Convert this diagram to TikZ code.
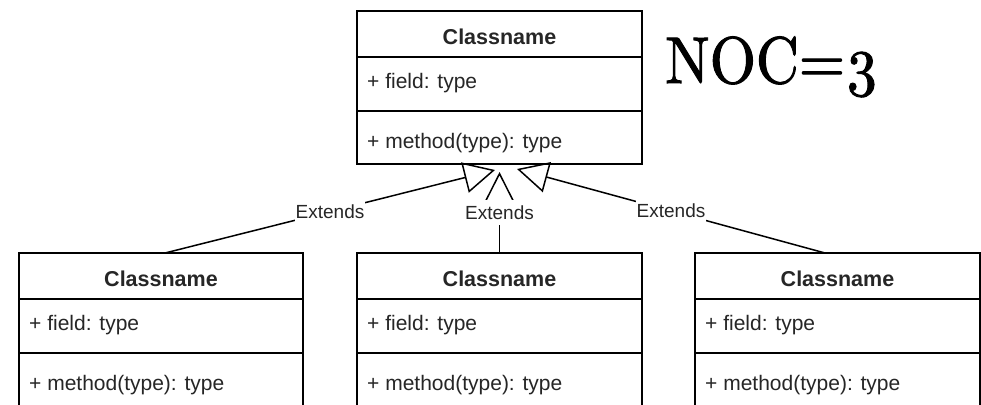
\documentclass[tikz,border=0pt]{standalone}
\usepackage{fontspec}
\setsansfont{Liberation Sans}
\newfontfamily\nocfont[FakeBold=1.6, Numbers=OldStyle]{lmroman10-regular.otf}
\usepackage{graphicx}
\usetikzlibrary{arrows.meta,calc}

\tikzset{
  clsbox/.style={draw=black, line width=1.5pt, fill=white, minimum height=153pt, inner sep=0pt, outer sep=0pt},
  clsline/.style={draw=black, line width=1.5pt},
  clstitle/.style={font=\sffamily\bfseries\fontsize{21.5}{25}\selectfont, text=black!85, inner sep=0pt},
  clsmember/.style={font=\sffamily\fontsize{21}{25}\selectfont, text=black!85, inner sep=0pt, anchor=base west},
  extends/.style={draw=black, line width=1.5pt, -{Triangle[open, length=31pt, width=31pt]}},
  extlabel/.style={font=\sffamily\fontsize{19}{22}\selectfont, text=black!85, fill=white, inner xsep=1pt, inner ysep=6pt},
  noc/.style={font=\nocfont\fontsize{66}{70}\selectfont, inner sep=0pt, anchor=base west}
}

\newcommand{\umlclass}[4]{%
  \node[clsbox, minimum width=#4pt] (#1) at (#2,#3+76.5) {};
  \draw[clsline] ($(#1.north west)+(0,46)$) -- ($(#1.north east)+(0,46)$);
  \draw[clsline] ($(#1.north west)+(0,100)$) -- ($(#1.north east)+(0,100)$);
  \node[clstitle] (#1-t) at ($(#1.north)+(0,25.5)$) {Classname};
  \node[clsmember] (#1-f) at ($(#1.north west)+(10,77)$) {+ field: type};
  \node[clsmember] (#1-m) at ($(#1.north west)+(10,137)$) {+ method(type): type};
}

\begin{document}
\begin{tikzpicture}[x=1pt,y=-1pt]
  \useasboundingbox (0,0) rectangle (981,404);
  \fill[white] (0,0) rectangle (981,404);
  \clip (0,0) rectangle (981,404);

  \umlclass{top}{499.5}{11}{285}
  \umlclass{lb}{161}{253}{284}
  \umlclass{mb}{499.5}{253}{285}
  \umlclass{rb}{837.5}{253}{285}

  \node[noc] (noc) at (665,83) {\scalebox{0.9}[1]{NOC=3}};

  \coordinate (sl) at ($(lb.north)+(4,0)$);
  \coordinate (sm) at (mb.north);
  \coordinate (sr) at ($(rb.north)+(-12.5,0)$);
  \coordinate (tl) at ($(top.south)+(-4.5,6)$);
  \coordinate (tm) at ($(top.south)+(0,8)$);
  \coordinate (tr) at ($(top.south)+(17.5,5)$);

  \draw[extends] (sl) -- node[extlabel] (el) {Extends} (tl);
  \draw[extends] (sm) -- node[extlabel] (em) {Extends} (tm);
  \draw[extends] (sr) -- node[extlabel] (er) {Extends} (tr);
\end{tikzpicture}
\end{document}
